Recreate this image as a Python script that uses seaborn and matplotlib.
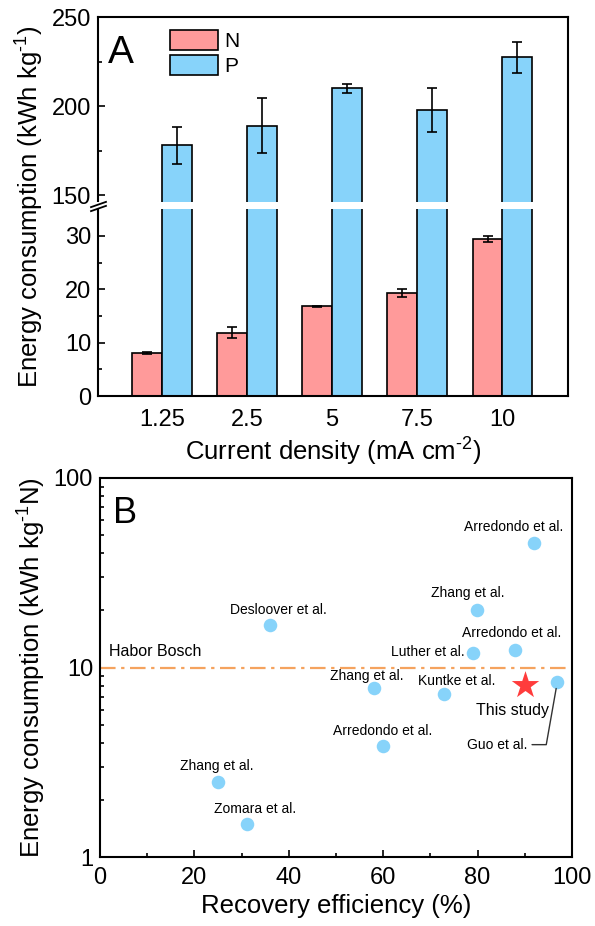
import numpy as np
import pandas as pd
import matplotlib
matplotlib.use("Agg")
import matplotlib.pyplot as plt
import seaborn as sns
from matplotlib.ticker import FixedLocator, NullFormatter, FuncFormatter, MultipleLocator, LogLocator
from matplotlib.patches import Rectangle
from matplotlib.path import Path

# ---------------- Panel A data ----------------
densities = ["1.25", "2.5", "5", "7.5", "10"]
n_values = [8.1, 11.9, 16.8, 19.3, 29.4]
n_errors = [0.2, 1.1, 0.1, 0.8, 0.55]
p_values = [178.0, 189.0, 210.0, 198.0, 227.5]
p_errors = [10.5, 15.5, 2.4, 12.3, 8.7]
series_names = ["N", "P"]
yticks_a = [0, 10, 20, 30, 150, 200, 250]
yminor_a = [5, 15, 25, 175, 225]

# ---------------- Panel B data ----------------
studies = ["Arredondo et al.", "Zhang et al.", "Desloover et al.", "Arredondo et al.",
           "Luther et al.", "Zhang et al.", "Kuntke et al.", "Arredondo et al.",
           "Guo et al.", "Zhang et al.", "Zomara et al."]
recovery = [91.9, 79.9, 36.0, 88.0, 79.0, 58.1, 72.9, 60.0, 96.9, 25.1, 31.1]
energy = [45.4, 20.2, 16.8, 12.4, 11.9, 7.77, 7.25, 3.85, 8.42, 2.48, 1.49]
this_label = "This study"
this_recovery = [90.0]
this_energy = [8.1]
habor_label = "Habor Bosch"
habor_energy = 10

# label offsets (pixels, x right / y up) relative to each point
label_dx = [-20, -9, 8, -4, -8, -7, 13, -1, -30, -2, 8]
label_dy = [16, 17, 15, 17, 1, 12, 13, 15, -63, 16, 15]
label_ha = ["center", "center", "center", "center", "right", "center", "center",
            "center", "right", "center", "center"]

PINK = "#FF9A9A"
BLUE = "#87D3FA"
RED = "#FF3C3C"
ORANGE = "#F5A35E"

sns.set_style("ticks")
plt.rcParams["font.family"] = ["Liberation Sans", "DejaVu Sans"]
plt.rcParams["mathtext.default"] = "regular"
plt.rcParams["axes.linewidth"] = 1.5
for key in ["text.color", "axes.labelcolor", "xtick.color", "ytick.color", "axes.edgecolor"]:
    plt.rcParams[key] = "black"

DPI = 100
fig = plt.figure(figsize=(5.95, 9.26), dpi=DPI)
W, H = 595, 926

def px_axes(l, t, r, b):
    return fig.add_axes([l / W, 1 - b / H, (r - l) / W, (b - t) / H])

HY = "\u2010"  # short hyphen for superscripts

# ================= Panel A =================
ax = px_axes(98, 17, 568, 396)
df = pd.DataFrame({
    "density": densities * 2,
    "value": n_values + p_values,
    "series": [series_names[0]] * len(densities) + [series_names[1]] * len(densities),
})
sns.barplot(data=df, x="density", y="value", hue="series", order=densities,
            hue_order=series_names, palette=[PINK, BLUE], edgecolor="black",
            linewidth=1.2, errorbar=None, width=0.7, saturation=1, ax=ax)

for cont, errs in zip(ax.containers, [n_errors, p_errors]):
    xs = [p.get_x() + p.get_width() / 2 for p in cont.patches]
    ys = [p.get_height() for p in cont.patches]
    ax.errorbar(xs, ys, yerr=errs, fmt="none", ecolor="black", elinewidth=1.2,
                capsize=3.5, capthick=1.2, zorder=4)

LOW_TOP, HIGH_BOT, GAP, RATIO = 35.0, 146.0, 1.3125, 0.334

def fwd(y):
    y = np.asarray(y, dtype=float)
    return np.where(y <= LOW_TOP, y,
                    np.where(y >= HIGH_BOT, LOW_TOP + GAP + (y - HIGH_BOT) * RATIO,
                             LOW_TOP + (y - LOW_TOP) / (HIGH_BOT - LOW_TOP) * GAP))

def inv(t):
    t = np.asarray(t, dtype=float)
    return np.where(t <= LOW_TOP, t,
                    np.where(t >= LOW_TOP + GAP, HIGH_BOT + (t - LOW_TOP - GAP) / RATIO,
                             LOW_TOP + (t - LOW_TOP) / GAP * (HIGH_BOT - LOW_TOP)))

ax.set_yscale("function", functions=(fwd, inv))
ax.set_ylim(0, 250)
ax.set_xlim(-0.75, 4.77)
ax.yaxis.set_major_locator(FixedLocator(yticks_a))
ax.yaxis.set_minor_locator(FixedLocator(yminor_a))
ax.yaxis.set_major_formatter(FuncFormatter(lambda v, p: f"{v:g}"))
ax.yaxis.set_minor_formatter(NullFormatter())
ax.tick_params(axis="y", which="major", direction="in", length=5, width=1.2, labelsize=17, pad=5)
ax.tick_params(axis="y", which="minor", direction="in", length=3, width=1.2)
ax.tick_params(axis="x", which="both", length=0, labelsize=17, pad=9)
for s in ax.spines.values():
    s.set_linewidth(1.5)
    s.set_color("black")

# white break band across bars and left spine
ax.add_patch(Rectangle((0, LOW_TOP), 1, HIGH_BOT - LOW_TOP, transform=ax.get_yaxis_transform(),
                       facecolor="white", edgecolor="none", zorder=2.2))
ax.add_patch(Rectangle((-0.02, LOW_TOP), 0.03, HIGH_BOT - LOW_TOP, transform=ax.get_yaxis_transform(),
                       facecolor="white", edgecolor="none", zorder=3, clip_on=False))
brk = Path([(-1, -0.35), (1, 0.35)], [Path.MOVETO, Path.LINETO])
ax.plot([0, 0], [float(inv(LOW_TOP + 0.2 * GAP)), float(inv(LOW_TOP + 0.8 * GAP))],
        transform=ax.get_yaxis_transform(), ls="none", marker=brk, ms=12,
        mec="black", mew=1.3, clip_on=False, zorder=5)

ax.set_xlabel(f"Current density (mA cm$^{{{HY}2}}$)", fontsize=18.5, labelpad=4)
ax.set_ylabel(f"Energy consumption (kWh kg$^{{{HY}1}}$)", fontsize=18.5, labelpad=4)
ax.text(0.021, 0.879, "A", transform=ax.transAxes, fontsize=28, va="baseline", ha="left")
sns.move_legend(ax, "upper left", bbox_to_anchor=(0.153, 0.965), frameon=False, title=None,
                fontsize=15, handlelength=2.3, handleheight=1.05, labelspacing=0.2,
                handletextpad=0.3, borderaxespad=0, borderpad=0)

# ================= Panel B =================
bx = px_axes(100, 478, 572, 857)
bx.axhline(habor_energy, color=ORANGE, lw=1.6, ls=(0, (7, 2.5, 1.5, 2.5)), zorder=1)
sns.scatterplot(x=recovery, y=energy, color=BLUE, s=95, linewidth=0, ax=bx, zorder=3)
sns.scatterplot(x=this_recovery, y=this_energy, color=RED, marker="*", s=430, linewidth=0,
                ax=bx, zorder=3)
bx.set_yscale("log")
bx.set_xlim(0, 100)
bx.set_ylim(1, 100)

k = 72.0 / DPI
for name, xv, yv, dx, dy, ha in zip(studies, recovery, energy, label_dx, label_dy, label_ha):
    if name == "Guo et al.":
        bx.annotate(name, xy=(xv, yv), xytext=(dx * k, dy * k), textcoords="offset points",
                    ha=ha, va="center", fontsize=10,
                    arrowprops=dict(arrowstyle="-", color="#333333", lw=1.0,
                                    connectionstyle="angle,angleA=0,angleB=80,rad=0",
                                    relpos=(1, 0.5), shrinkA=1, shrinkB=5))
    else:
        bx.annotate(name, xy=(xv, yv), xytext=(dx * k, dy * k), textcoords="offset points",
                    ha=ha, va="center", fontsize=10)
bx.annotate(this_label, xy=(this_recovery[0], this_energy[0]), xytext=(-12 * k, -26 * k),
            textcoords="offset points", ha="center", va="center", fontsize=11.5)
bx.annotate(habor_label, xy=(0.02, habor_energy), xycoords=("axes fraction", "data"),
            xytext=(0, 16 * k), textcoords="offset points", ha="left", va="center", fontsize=11.5)

bx.xaxis.set_major_locator(MultipleLocator(20))
bx.xaxis.set_minor_locator(MultipleLocator(10))
bx.yaxis.set_major_locator(LogLocator(base=10, numticks=5))
bx.yaxis.set_minor_locator(LogLocator(base=10, subs=np.arange(2, 10), numticks=20))
bx.yaxis.set_major_formatter(FuncFormatter(lambda v, p: f"{v:g}"))
bx.yaxis.set_minor_formatter(NullFormatter())
bx.tick_params(which="major", direction="in", length=5, width=1.2, labelsize=17, pad=5)
bx.tick_params(which="minor", direction="in", length=3, width=1.2)
bx.tick_params(axis="x", which="major", pad=7)
for s in bx.spines.values():
    s.set_linewidth(1.5)
    s.set_color("black")
bx.set_xlabel("Recovery efficiency (%)", fontsize=18.5, labelpad=4)
bx.set_ylabel(f"Energy consumption (kWh kg$^{{{HY}1}}$N)", fontsize=18.5, labelpad=4)
bx.text(0.027, 0.881, "B", transform=bx.transAxes, fontsize=26, va="baseline", ha="left")

fig.savefig("out.png", dpi=DPI, facecolor="white")
